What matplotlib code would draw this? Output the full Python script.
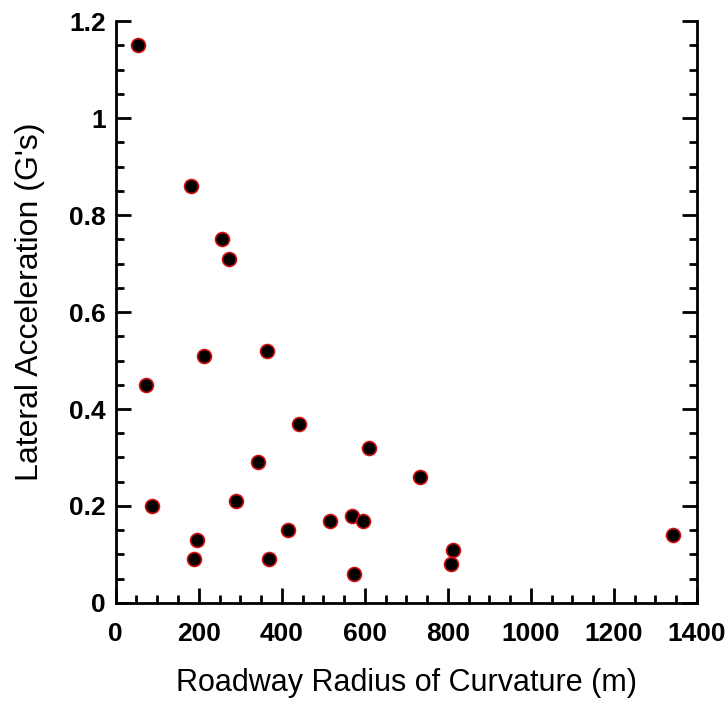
import matplotlib.pyplot as plt
from matplotlib.ticker import MultipleLocator

# Radius of curvature (m) and lateral acceleration (G's)
radius = [53, 181, 256, 273, 73, 212, 364, 442, 88, 342, 289, 610,
          195, 188, 369, 415, 515, 568, 596, 574, 732, 813, 808, 1343]
lat_acc = [1.15, 0.86, 0.75, 0.71, 0.45, 0.51, 0.52, 0.37, 0.20, 0.29, 0.21, 0.32,
           0.13, 0.09, 0.09, 0.15, 0.17, 0.18, 0.17, 0.06, 0.26, 0.11, 0.08, 0.14]

x_ticks = [0, 200, 400, 600, 800, 1000, 1200, 1400]
x_labels = ['0', '200', '400', '600', '800', '1000', '1200', '1400']
y_ticks = [0, 0.2, 0.4, 0.6, 0.8, 1.0, 1.2]
y_labels = ['0', '0.2', '0.4', '0.6', '0.8', '1', '1.2']

tick_font = {'family': 'Liberation Sans', 'weight': 'bold', 'size': 19}

fig = plt.figure(figsize=(7.26, 7.17), dpi=100)
ax = fig.add_axes([0.1594, 0.159, 0.8006, 0.8117])

ax.plot(radius, lat_acc, 'o', markersize=10, markerfacecolor='black',
        markeredgecolor='#d01010', markeredgewidth=1.2, clip_on=False)

ax.set_xlim(0, 1400)
ax.set_ylim(0, 1.2)
ax.set_xticks(x_ticks)
ax.set_xticklabels(x_labels, fontdict=tick_font)
ax.set_yticks(y_ticks)
ax.set_yticklabels(y_labels, fontdict=tick_font)
ax.xaxis.set_minor_locator(MultipleLocator(50))
ax.yaxis.set_minor_locator(MultipleLocator(0.05))

ax.spines['top'].set_visible(False)
for s in ['left', 'right', 'bottom']:
    ax.spines[s].set_linewidth(2)

ax.tick_params(which='both', direction='in', right=True, top=False, width=2)
ax.tick_params(which='major', length=11)
ax.tick_params(which='minor', length=6)
ax.tick_params(axis='x', which='major', pad=14)
ax.tick_params(axis='y', which='major', pad=7)

ax.set_xlabel('Roadway Radius of Curvature (m)', fontsize=22, family='Liberation Sans')
ax.set_ylabel("Lateral Acceleration (G's)", fontsize=23, family='Liberation Sans')
ax.xaxis.set_label_coords(0.5, -0.137)
ax.xaxis.label.set_verticalalignment('center')
ax.yaxis.set_label_coords(-0.1475, 0.517)
ax.yaxis.label.set_verticalalignment('center')

fig.savefig('out.png', dpi=100)
